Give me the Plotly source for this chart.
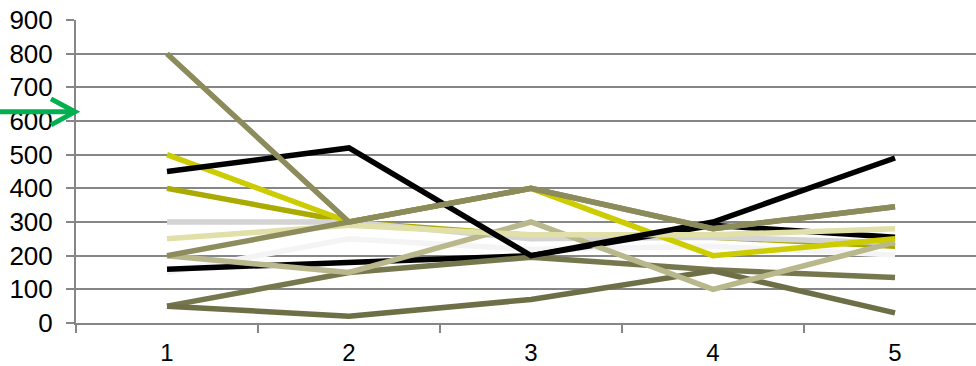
import plotly.graph_objects as go

# Categories along the x axis
categories = ["1", "2", "3", "4", "5"]

# Series values, one list per line
black_main = [450, 520, 200, 300, 490]
black_low = [160, 180, 200, 290, 255]
olive_yellow = [400, 300, 260, 255, 228]
light_gray = [300, 300, 250, 255, 238]
white_line = [150, 250, 218, 228, 202]
dark_olive_a = [50, 150, 195, 158, 135]
dark_olive_b = [50, 20, 70, 155, 30]
light_khaki = [200, 150, 300, 100, 240]
olive_low = [200, 300, 400, 280, 345]
yellow = [500, 300, 400, 200, 250]
pale_khaki = [250, 290, 262, 262, 280]
olive_high = [800, 300, 400, 280, 345]

y_ticks = [0, 100, 200, 300, 400, 500, 600, 700, 800, 900]

series = [
    (olive_yellow, "#AAAA00"),
    (light_gray, "#D4D4D4"),
    (white_line, "#F4F4F4"),
    (black_low, "#000000"),
    (dark_olive_a, "#77774D"),
    (dark_olive_b, "#6F6F47"),
    (light_khaki, "#B8B88C"),
    (yellow, "#CCCC00"),
    (pale_khaki, "#E0E0A8"),
    (black_main, "#000000"),
    (olive_low, "#8C8C5C"),
    (olive_high, "#8B8B5B"),
]

fig = go.Figure()
for values, color in series:
    fig.add_trace(go.Scatter(
        x=categories, y=values, mode="lines",
        line=dict(color=color, width=5.5),
        hoverinfo="skip", showlegend=False,
    ))

W, H = 976, 366
ML, MT, MB = 76, 20, 42.5
plot_w = W - ML
plot_h = H - MT - MB


def px_x(p):
    return (p - ML) / plot_w


def px_y(p):
    return (H - MB - p) / plot_h


# Green pointer arrow beside the value axis
arrow_color = "#00B050"
fig.add_shape(type="line", xref="paper", yref="paper",
              x0=px_x(0), y0=px_y(112), x1=px_x(74), y1=px_y(112),
              line=dict(color=arrow_color, width=5))
fig.add_shape(type="path", xref="paper", yref="paper",
              path=f"M {px_x(51)} {px_y(99)} L {px_x(75)} {px_y(112)} L {px_x(51)} {px_y(125)}",
              line=dict(color=arrow_color, width=5))

grid = "#868686"
y_font = dict(family="Liberation Sans, Arial, sans-serif", size=26, color="#000000")
x_font = dict(family="Liberation Sans, Arial, sans-serif", size=24, color="#000000")

fig.update_layout(
    width=W, height=H,
    margin=dict(l=ML, r=0, t=MT, b=MB, pad=0, autoexpand=False),
    paper_bgcolor="white", plot_bgcolor="white",
    showlegend=False,
    font=y_font,
    xaxis=dict(
        type="category", range=[-0.5, 4.445], automargin=False,
        tickson="boundaries", ticks="outside", ticklen=8, tickwidth=2,
        tickcolor=grid, showline=True, linecolor=grid, linewidth=2,
        showgrid=False, zeroline=False, tickfont=x_font,
        ticklabelstandoff=7,
    ),
    yaxis=dict(
        range=[0, 900], tickvals=y_ticks, ticktext=[str(v) for v in y_ticks],
        automargin=False,
        ticks="outside", ticklen=8, tickwidth=2, tickcolor=grid,
        showline=True, linecolor=grid, linewidth=2,
        showgrid=True, gridcolor=grid, gridwidth=2, zeroline=False,
        tickfont=y_font, ticklabelstandoff=8,
    ),
)

fig.write_html("out.html")
